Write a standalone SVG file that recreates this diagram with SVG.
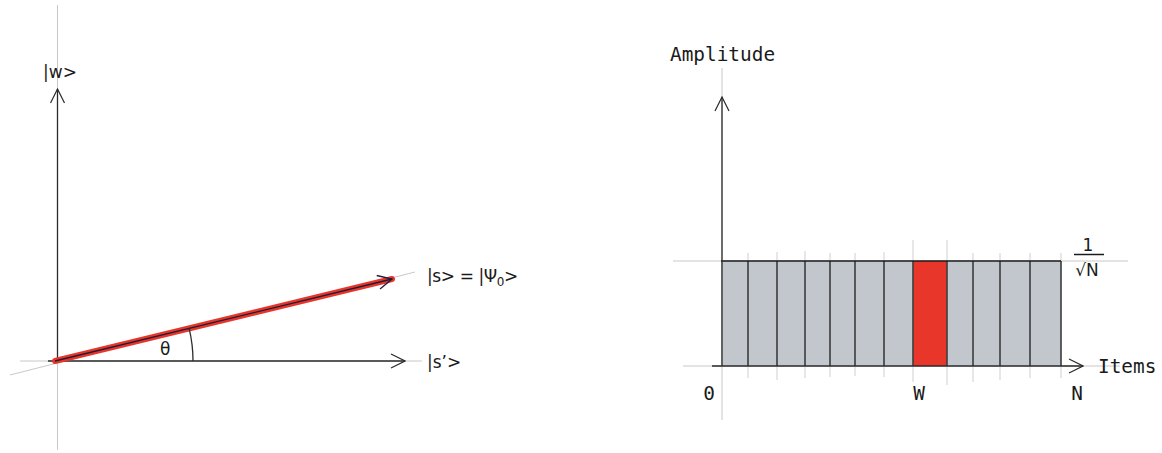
<svg xmlns="http://www.w3.org/2000/svg" width="1162" height="453" viewBox="0 0 1162 453">
<style>
.guide{stroke:#c8c8c8;stroke-width:1;fill:none}
.axis{stroke:#2b2b2b;stroke-width:1.3;fill:none}
.cell{fill:#c1c7cc;stroke:none}
.div{stroke:#1a1a1a;stroke-width:1.3}
.tick{stroke:#cfcfcf;stroke-width:1}
.lbl{font-family:"DejaVu Sans",sans-serif;font-size:17px;fill:#1a1a1a}
.mono{font-family:"DejaVu Sans Mono","Liberation Mono",monospace;font-size:19.4px;fill:#1a1a1a}
</style>
<defs>
<marker id="open" viewBox="0 0 16 16" refX="15" refY="8" markerWidth="16" markerHeight="16" markerUnits="userSpaceOnUse" orient="auto">
<path d="M1,1 L15,8 L1,15" fill="none" stroke="#2b2b2b" stroke-width="1.2"/>
</marker>
<marker id="openv" viewBox="0 0 16 16" refX="15" refY="8" markerWidth="16" markerHeight="16" markerUnits="userSpaceOnUse" orient="auto">
<path d="M1,1 L15,8 L1,15" fill="none" stroke="#1d1d3a" stroke-width="1.3"/>
</marker>
</defs>

<g id="guides">
<line class="guide" x1="57.5" y1="5" x2="57.5" y2="450"/>
<line class="guide" x1="20" y1="361" x2="422" y2="361"/>
<line class="guide" x1="10" y1="375" x2="415" y2="272"/>
<line class="guide" x1="722" y1="68" x2="722" y2="420"/>
<line class="guide" x1="673" y1="261" x2="1128" y2="261"/>
<line class="guide" x1="683" y1="366" x2="1120" y2="366"/>
</g>

<g id="bars">
<rect class="cell" x="721" y="261" width="192" height="105"/>
<rect x="913" y="261" width="34" height="105" fill="#e8372a"/>
<rect class="cell" x="947" y="261" width="114" height="105"/>
<g id="ticks">
<line class="tick" x1="748" y1="253" x2="748" y2="378"/>
<line class="tick" x1="777" y1="252" x2="777" y2="380"/>
<line class="tick" x1="805" y1="251" x2="805" y2="378"/>
<line class="tick" x1="830" y1="253" x2="830" y2="377"/>
<line class="tick" x1="855" y1="253" x2="855" y2="376"/>
<line class="tick" x1="884" y1="252" x2="884" y2="377"/>
<line class="tick" x1="913" y1="240" x2="913" y2="382"/>
<line class="tick" x1="947" y1="240" x2="947" y2="385"/>
<line class="tick" x1="973" y1="253" x2="973" y2="382"/>
<line class="tick" x1="1000" y1="253" x2="1000" y2="380"/>
<line class="tick" x1="1030" y1="253" x2="1030" y2="378"/>
<line class="tick" x1="1061" y1="253" x2="1061" y2="378"/>
</g>
<g id="dividers">
<line class="div" x1="748" y1="261" x2="748" y2="366"/>
<line class="div" x1="777" y1="261" x2="777" y2="366"/>
<line class="div" x1="805" y1="261" x2="805" y2="366"/>
<line class="div" x1="830" y1="261" x2="830" y2="366"/>
<line class="div" x1="855" y1="261" x2="855" y2="366"/>
<line class="div" x1="884" y1="261" x2="884" y2="366"/>
<line class="div" x1="913" y1="261" x2="913" y2="366"/>
<line class="div" x1="947" y1="261" x2="947" y2="366"/>
<line class="div" x1="973" y1="261" x2="973" y2="366"/>
<line class="div" x1="1000" y1="261" x2="1000" y2="366"/>
<line class="div" x1="1030" y1="261" x2="1030" y2="366"/>
<line class="div" x1="1061" y1="261" x2="1061" y2="366"/>
<line class="div" x1="721" y1="261" x2="1061" y2="261"/>
</g>
</g>

<g id="connectors">
<line class="axis" x1="57.5" y1="361" x2="57.5" y2="89" marker-end="url(#open)"/>
<line class="axis" x1="48" y1="361" x2="405" y2="361" marker-end="url(#open)"/>
<line x1="55" y1="361" x2="392" y2="279" stroke="#e8352a" stroke-width="6" stroke-linecap="round"/>
<line x1="55" y1="361" x2="392" y2="279" stroke="#1d1d3a" stroke-width="1.3" marker-end="url(#openv)"/>
<path class="axis" d="M193,361 A138,138 0 0 0 189.1,328.3" stroke-width="1"/>
<line class="axis" x1="722" y1="366" x2="722" y2="97" marker-end="url(#open)"/>
<line class="axis" x1="712" y1="366" x2="1083" y2="366" marker-end="url(#open)"/>
</g>

<g id="label-w"><text class="lbl" x="43" y="78">|w&gt;</text></g>
<g id="label-s"><text class="lbl" x="427" y="282" letter-spacing="-0.4">|s&gt; = |Ψ<tspan font-size="12" dy="4">0</tspan><tspan dy="-4">&gt;</tspan></text></g>
<g id="label-sp"><text class="lbl" x="427" y="368">|s’&gt;</text></g>
<g id="label-theta"><text class="lbl" x="160" y="355">θ</text></g>

<g id="label-amplitude"><text class="mono" x="670" y="61">Amplitude</text></g>
<g id="label-items"><text class="mono" x="1098" y="373">Items</text></g>
<g id="label-0"><text class="mono" x="709" y="400" text-anchor="middle">0</text></g>
<g id="label-W"><text class="mono" x="919" y="400" text-anchor="middle">W</text></g>
<g id="label-N"><text class="mono" x="1077" y="400" text-anchor="middle">N</text></g>
<g id="label-frac">
<text class="lbl" x="1088" y="251" text-anchor="middle" font-size="18">1</text>
<line x1="1074" y1="254.5" x2="1104" y2="254.5" stroke="#1a1a1a" stroke-width="1.5"/>
<text class="lbl" x="1087" y="276" text-anchor="middle">√N</text>
</g>
</svg>
